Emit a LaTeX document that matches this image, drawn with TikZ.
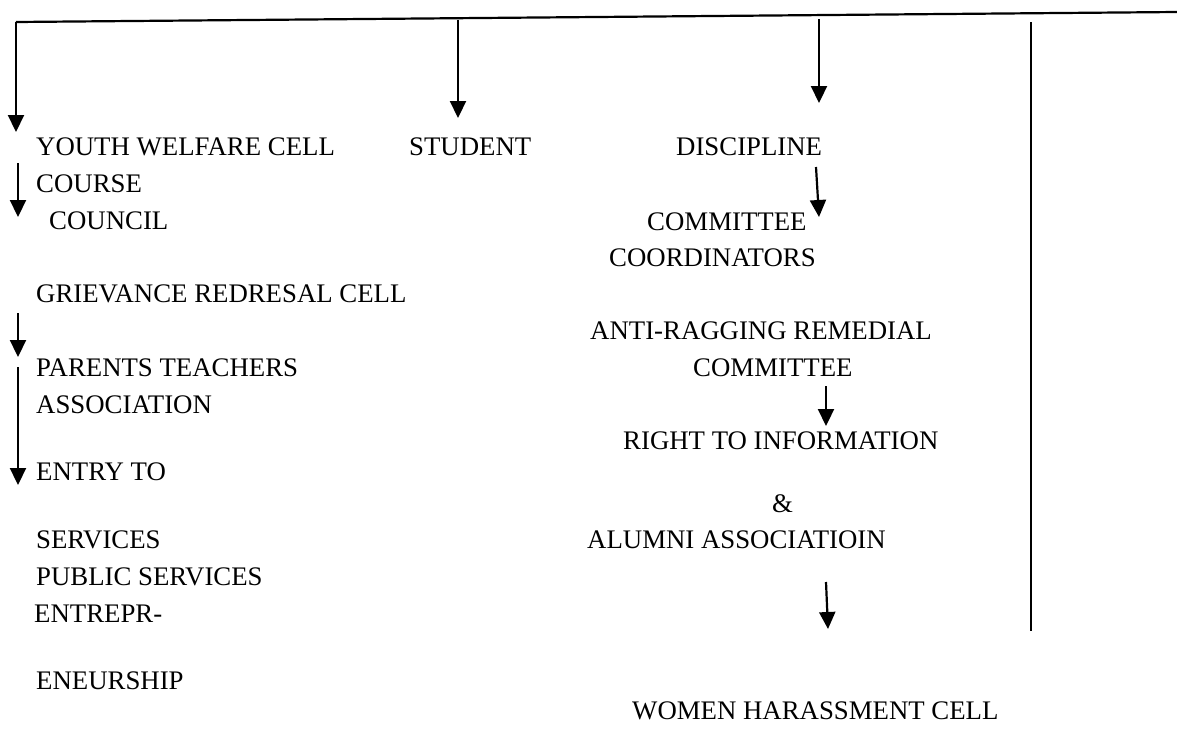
\documentclass[tikz,border=0pt]{standalone}
\usepackage{fontspec}
\setmainfont{Liberation Serif}
\usetikzlibrary{arrows.meta}
\begin{document}
\begin{tikzpicture}[x=1pt,y=-1pt,
  lbl/.style={anchor=base west,inner sep=0pt,font=\fontsize{26.8}{30}\selectfont},
  ln/.style={line width=2.2pt,black},
  arr/.style={ln,-{Triangle[width=16pt,length=17pt]}}]
\useasboundingbox (0,0) rectangle (1177,731);
% texts
\node[lbl] (youth) at (36,155) {YOUTH WELFARE CELL};
\node[lbl] (student) at (409,155) {STUDENT};
\node[lbl] (disc) at (676,155) {DISCIPLINE};
\node[lbl] (course) at (36,192) {COURSE};
\node[lbl] (council) at (49,229) {COUNCIL};
\node[lbl] (comm1) at (647,230) {COMMITTEE};
\node[lbl] (coord) at (609,266) {COORDINATORS};
\node[lbl] (griev) at (36,302) {GRIEVANCE REDRESAL CELL};
\node[lbl] (anti) at (590,339) {ANTI-RAGGING REMEDIAL};
\node[lbl] (parents) at (36,376) {PARENTS TEACHERS};
\node[lbl] (comm2) at (693,376) {COMMITTEE};
\node[lbl] (assoc) at (36,413) {ASSOCIATION};
\node[lbl] (rti) at (623,449) {RIGHT TO INFORMATION};
\node[lbl] (entry) at (36,480) {ENTRY TO};
\node[lbl] (amp) at (772,512) {\&};
\node[lbl] (serv) at (36,548) {SERVICES};
\node[lbl] (alumni) at (587,548) {ALUMNI ASSOCIATIOIN};
\node[lbl] (pub) at (36,585) {PUBLIC SERVICES};
\node[lbl] (entre) at (34,622) {ENTREPR-};
\node[lbl] (eneur) at (36,689) {ENEURSHIP};
\node[lbl] (women) at (632,719) {WOMEN HARASSMENT CELL};
% connector coordinates
\coordinate (tl) at (16,22);
\coordinate (tr) at (1177,12);
\coordinate (a1) at (16,132);
\coordinate (s0) at (458,20);
\coordinate (s1) at (458,118);
\coordinate (d0) at (819,19);
\coordinate (d1) at (819,103);
\coordinate (v0) at (1031,22);
\coordinate (v1) at (1031,631);
\coordinate (c0) at (18,163);
\coordinate (c1) at (18,217);
\coordinate (p0) at (18,313);
\coordinate (p1) at (18,357);
\coordinate (e0) at (18,367);
\coordinate (e1) at (18,485);
\coordinate (m0) at (816,167);
\coordinate (m1) at (819,217);
\coordinate (r0) at (826,386);
\coordinate (r1) at (826,426);
\coordinate (w0) at (826,582);
\coordinate (w1) at (828,629);
% connectors
\draw[ln] (tr) -- (tl);
\draw[arr] (tl) -- (a1);
\draw[arr] (s0) -- (s1);
\draw[arr] (d0) -- (d1);
\draw[ln,line width=1.8pt] (v0) -- (v1);
\draw[arr] (c0) -- (c1);
\draw[arr] (p0) -- (p1);
\draw[arr] (e0) -- (e1);
\draw[arr] (m0) -- (m1);
\draw[arr] (r0) -- (r1);
\draw[arr] (w0) -- (w1);
\end{tikzpicture}
\end{document}
